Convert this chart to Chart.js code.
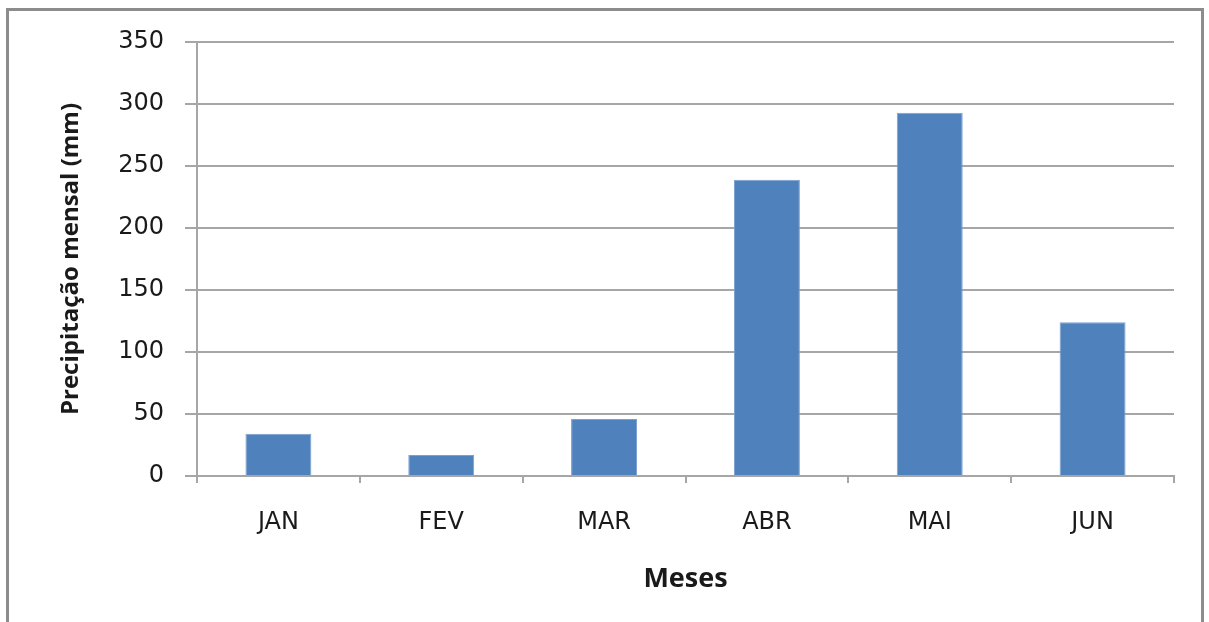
<!DOCTYPE html>
<html>
<head>
<meta charset="utf-8">
<script src="https://cdn.jsdelivr.net/npm/chart.js@4"></script>
<style>
    html, body { margin: 0; padding: 0; background: #fff; }
    #wrap { width: 1209px; height: 622px; position: relative; }
</style>
</head>
<body>
<div id="wrap"><canvas id="chuva"></canvas></div>
<script>
// dados
const meses = ['JAN', 'FEV', 'MAR', 'ABR', 'MAI', 'JUN'];
const precipitacao = [34, 17, 46, 239, 293, 124];
const yTicks = [0, 50, 100, 150, 200, 250, 300, 350];

const gridColor = '#a6a6a6';
const textColor = '#1a1a1a';

// moldura cinza em volta do grafico
const frame = {
    id: 'frame',
    beforeDraw(chart) {
        const ctx = chart.ctx;
        ctx.save();
        ctx.strokeStyle = '#8c8c8c';
        ctx.lineWidth = 3;
        ctx.strokeRect(7.5, 9.5, 1195, 700);
        ctx.restore();
    }
};

new Chart(document.getElementById('chuva').getContext('2d'), {
    type: 'bar',
    data: {
        labels: meses,
        datasets: [{
            label: 'Precipitação mensal (mm)',
            data: precipitacao,
            backgroundColor: '#4f81bd',
            borderColor: '#7aa0cf',
            borderWidth: 1,
            categoryPercentage: 1.0,
            barPercentage: 0.405
        }]
    },
    options: {
        responsive: true,
        maintainAspectRatio: false,
        animation: false,
        layout: {
            padding: { left: 0, top: 42, right: 35, bottom: 0 }
        },
        plugins: {
            legend: { display: false },
            tooltip: { enabled: false }
        },
        scales: {
            x: {
                afterFit: (s) => { s.height = 146; },
                grid: {
                    drawOnChartArea: false,
                    drawTicks: true,
                    tickLength: 7,
                    color: gridColor,
                    lineWidth: 2
                },
                border: { color: gridColor, width: 2 },
                ticks: {
                    color: textColor,
                    padding: 25,
                    font: { family: 'DejaVu Sans', size: 24 }
                },
                title: {
                    display: true,
                    text: 'Meses',
                    color: textColor,
                    padding: { top: 0, bottom: 26 },
                    font: { family: 'Open Sans', size: 27, weight: 'bold' }
                }
            },
            y: {
                min: 0,
                max: 350,
                afterFit: (s) => { s.width = 197; },
                afterBuildTicks: (s) => { s.ticks = yTicks.map(v => ({ value: v })); },
                grid: {
                    drawTicks: true,
                    tickLength: 12,
                    color: gridColor,
                    lineWidth: 2
                },
                border: { color: gridColor, width: 2 },
                ticks: {
                    color: textColor,
                    padding: 21,
                    font: { family: 'DejaVu Sans', size: 24 }
                },
                title: {
                    display: true,
                    text: 'Precipitação mensal (mm)',
                    color: textColor,
                    padding: { top: 57, bottom: 0 },
                    font: { family: 'Open Sans', size: 24, weight: 'bold' }
                }
            }
        }
    },
    plugins: [frame]
});
</script>
</body>
</html>
